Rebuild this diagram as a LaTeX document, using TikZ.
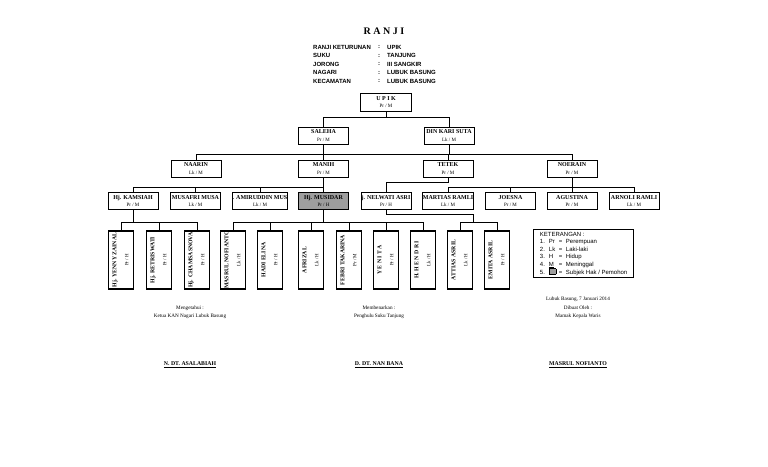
\documentclass[tikz,border=0pt]{standalone}
\usepackage{fontspec}
\setmainfont{Liberation Serif}
\setsansfont{Liberation Sans}
\usetikzlibrary{positioning}
\definecolor{abu}{gray}{0.62}
\tikzset{
  orang/.style={draw,line width=0.9pt,minimum width=50pt,minimum height=17pt,inner sep=0pt,align=center,font=\fontsize{6}{7.5}\selectfont},
  anak/.style={draw,line width=1.2pt,minimum width=25pt,minimum height=58pt,inner sep=0pt,font=\fontsize{5.8}{7}\selectfont},
  subjek/.style={fill=abu},
  garis/.style={line width=0.8pt},
  info/.style={font=\sffamily\bfseries\fontsize{6}{7}\selectfont,inner sep=0pt,anchor=west},
  teks/.style={font=\fontsize{5.2}{6}\selectfont,inner sep=0pt},
  ttd/.style={font=\bfseries\fontsize{5.8}{7}\selectfont,inner sep=0pt}
}
\newcommand{\nama}[2]{\textbf{#1}\\{\fontsize{5}{5}\selectfont #2}}
\newcommand{\namaanak}[2]{\rotatebox{90}{\begin{tabular}{@{}c@{}}\textbf{#1}\\[5pt]{\fontsize{5}{5}\selectfont #2}\end{tabular}}}
\newcommand{\kotakabu}{{\setlength{\fboxsep}{0pt}\setlength{\fboxrule}{0.6pt}\fcolorbox{black}{abu}{\rule{0pt}{5pt}\hspace{6pt}}}}

\begin{document}
\begin{tikzpicture}[x=1pt,y=-1pt]
  \useasboundingbox (0,0) rectangle (768,466);
  % header
  \node[font=\bfseries\fontsize{10}{12}\selectfont] (judul) at (384,31) {R A N J I};
  \foreach \lbl/\val [count=\i] in {RANJI KETURUNAN/UPIK,SUKU/TANJUNG,JORONG/III SANGKIR,NAGARI/LUBUK BASUNG,KECAMATAN/LUBUK BASUNG}{
    \node[info] (lbl\i) at (313,38.5+8.5*\i) {\lbl};
    \node[info,anchor=center] (tt\i) at (379,38.5+8.5*\i) {:};
    \node[info] (val\i) at (387,38.5+8.5*\i) {\val};
  }

  % the family tree
  \node[orang,minimum width=51pt,minimum height=18pt] (upik) at (386,102) {\nama{U P I K}{Pr / M}};
  \node[orang] (saleha) at (323.5,135.5) {\nama{SALEHA}{Pr / M}};
  \node[orang] (din) at (449,135.5) {\nama{DIN KARI SUTA}{Lk / M}};

  \node[orang] (naarin) at (196,168.5) {\nama{NAARIN}{Lk / M}};
  \node[orang] (manih) at (323.5,168.5) {\nama{MANIH}{Pr / M}};
  \node[orang] (tetek) at (448,168.5) {\nama{TETEK}{Pr / M}};
  \node[orang] (noerain) at (572,168.5) {\nama{NOERAIN}{Pr / M}};

  \node[orang] (kamsiah) at (133,201) {\nama{Hj. KAMSIAH}{Pr / M}};
  \node[orang] (musafri) at (195.5,201) {\nama{MUSAFRI MUSA}{Lk / M}};
  \node[orang,minimum width=54pt] (amir) at (260,201) {\nama{. AMIRUDDIN MUS}{Lk / M}};
  \node[orang,subjek] (musidar) at (323.5,201) {\nama{Hj. MUSIDAR}{Pr / H}};
  \node[orang] (nelwati) at (386,201) {\nama{j. NELWATI ASRI}{Pr / H}};
  \node[orang] (martias) at (448,201) {\nama{MARTIAS RAMLI}{Lk / M}};
  \node[orang] (joesna) at (510.5,201) {\nama{JOESNA}{Pr / M}};
  \node[orang] (agustina) at (572,201) {\nama{AGUSTINA}{Pr / M}};
  \node[orang] (arnoli) at (634,201) {\nama{ARNOLI RAMLI}{Lk / M}};

  \node[anak] (yenny) at (121,260) {\namaanak{Hj. YENNY ZAINAL}{Pr / H}};
  \node[anak] (retris) at (159,260) {\namaanak{Hj. RETRISWATI}{Pr / H}};
  \node[anak] (chamsa) at (197,260) {\namaanak{Hj. CHAMSASNOVA}{Pr / H}};
  \node[anak] (masrul) at (233,260) {\namaanak{MASRUL NOFIANTO}{Lk / H}};
  \node[anak] (hadi) at (270,260) {\namaanak{HADI ELINA}{Pr / H}};
  \node[anak] (afrizal) at (311,260) {\namaanak{AFRIZAL}{Lk / H}};
  \node[anak] (febri) at (349,260) {\namaanak{FEBRI TAKARINA}{Pr / M}};
  \node[anak] (yenita) at (386,260) {\namaanak{Y E N I T A}{Pr / H}};
  \node[anak] (hendri) at (423,260) {\namaanak{H. H E N D R I}{Lk / H}};
  \node[anak] (attias) at (460,260) {\namaanak{ATTIAS ASRIL}{Lk / H}};
  \node[anak] (emita) at (497,260) {\namaanak{EMITA ASRIL}{Pr / H}};

  \draw[garis] (upik.south) -- ++(0,6) coordinate (b0);
  \draw[garis] (saleha.north) |- (b0) -| (din.north);

  \coordinate (b1) at ([yshift=-9.5pt]saleha.south);
  \draw[garis] (saleha.south) -- (b1);
  \draw[garis] (din.south) -- (din.south |- b1);
  \draw[garis] (naarin.north |- b1) -- (noerain.north |- b1);
  \foreach \n in {naarin,manih,tetek,noerain}
    \draw[garis] (\n.north) -- (\n.north |- b1);

  \coordinate (b2) at ([yshift=-10pt]manih.south);
  \draw[garis] (manih.south) -- (b2);
  \foreach \n in {kamsiah,musafri,amir,musidar}
    \draw[garis] (b2) -| (\n.north);
  \draw[garis] (tetek.south) -- ++(0,5) -| (nelwati.north);
  \coordinate (b3) at ([yshift=-10pt]noerain.south);
  \draw[garis] (noerain.south) -- (b3);
  \foreach \n in {martias,joesna,agustina,arnoli}
    \draw[garis] (b3) -| (\n.north);

  \coordinate (b4) at ([yshift=-12pt]kamsiah.south);
  \draw[garis] (kamsiah.south) -- (b4);
  \foreach \n in {yenny,retris,chamsa}
    \draw[garis] (b4) -| (\n.north);
  \coordinate (b5) at ([yshift=-12pt]musidar.south);
  \draw[garis] (musidar.south) -- (b5);
  \foreach \n in {masrul,hadi,afrizal,febri,yenita,hendri}
    \draw[garis] (b5) -| (\n.north);
  \draw[garis] (nelwati.south) -- ++(0,4) -| (473,222) coordinate (b6);
  \foreach \n in {attias,emita}
    \draw[garis] (b6) -| (\n.north);

  % legend
  \node[draw,line width=1.3pt,anchor=north west,minimum width=100pt,minimum height=48pt,inner xsep=4pt,inner ysep=1pt,
        font=\sffamily\fontsize{6}{7.5}\selectfont] (keterangan) at (533,229) {%
    \begin{tabular}{@{}p{9pt}@{}p{10pt}@{}p{7pt}@{}l@{}}
      \multicolumn{4}{@{}l@{}}{KETERANGAN :}\\
      1. & Pr & = & Perempuan\\
      2. & Lk & = & Laki-laki\\
      3. & H & = & Hidup\\
      4. & \underline{M} & = & Meninggal\\
      5. & \kotakabu & = & Subjek Hak / Pemohon
    \end{tabular}};

  % signatures
  \node[teks] (tgl) at (578,299) {Lubuk Basung, 7 Januari 2014};
  \node[teks] (tahu) at (190,308) {Mengetahui :};
  \node[teks] (ketua) at (190,316) {Ketua KAN Nagari Lubuk Basung};
  \node[teks] (benar) at (379,308) {Membenarkan :};
  \node[teks] (penghulu) at (379,316) {Penghulu Suku Tanjung};
  \node[teks] (buat) at (578,307.5) {Dibuat Oleh :};
  \node[teks] (mamak) at (578,316) {Mamak Kepala Waris};
  \node[ttd] (ttd1) at (190,365) {\underline{N. DT. ASALABIAH}};
  \node[ttd] (ttd2) at (379,365) {\underline{D. DT. NAN BANA}};
  \node[ttd] (ttd3) at (578,365) {\underline{MASRUL NOFIANTO}};
\end{tikzpicture}
\end{document}
